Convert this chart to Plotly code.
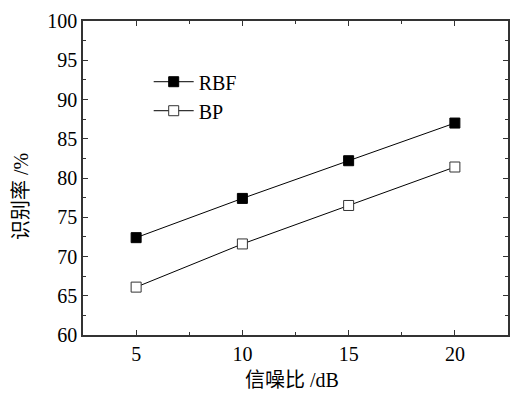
import plotly.graph_objects as go

snr = [5, 10, 15, 20]
rbf = [72.4, 77.4, 82.2, 87.0]
bp = [66.1, 71.6, 76.5, 81.4]
x_ticks = [5, 10, 15, 20]
y_ticks = [60, 65, 70, 75, 80, 85, 90, 95, 100]

FONT = "Liberation Serif, Times New Roman, Noto Sans CJK SC, serif"

fig = go.Figure()
fig.add_trace(go.Scatter(
    x=snr, y=rbf, name="RBF", mode="lines+markers",
    line=dict(color="black", width=1),
    marker=dict(symbol="square", size=10, color="black", line=dict(color="black", width=1)),
))
fig.add_trace(go.Scatter(
    x=snr, y=bp, name="BP", mode="lines+markers",
    line=dict(color="black", width=1),
    marker=dict(symbol="square", size=10, color="white", line=dict(color="#333", width=1)),
))

axis_common = dict(
    showline=True, linecolor="#333", linewidth=1.5, mirror="allticks",
    ticks="inside", ticklen=5, tickwidth=1, tickcolor="#333",
    showgrid=False, zeroline=False, ticklabeloverflow="allow",
    tickfont=dict(family=FONT, size=20, color="black"),
)
fig.update_xaxes(range=[2.5, 22.5], tickvals=x_ticks,
                 minor=dict(ticks="inside", ticklen=3, dtick=2.5, tick0=2.5, tickcolor="#333"),
                 **axis_common)
fig.update_yaxes(range=[60, 100], tickvals=y_ticks,
                 minor=dict(ticks="inside", ticklen=3, dtick=2.5, tick0=60, tickcolor="#333"),
                 **axis_common)

# plot area target (page px): x 83..510, y 15..335
PL, PR, PT, PB = 83, 510, 15, 335
PW, PH = PR - PL, PB - PT
W, H = 520, 397

fig.add_annotation(text="信噪比 /dB", xref="paper", yref="paper",
                   x=(293 - PL) / PW, y=-(381 - PB) / PH, showarrow=False,
                   xanchor="center", yanchor="middle",
                   font=dict(family=FONT, size=20, color="black"))
fig.add_annotation(text="识别率 /%", xref="paper", yref="paper",
                   x=-(PL - 20) / PW, y=(PB - 194) / PH, showarrow=False,
                   textangle=-90, xanchor="center", yanchor="middle",
                   font=dict(family=FONT, size=20, color="black"))

fig.update_layout(
    width=W, height=H,
    margin=dict(l=PL, r=W - PR, t=PT, b=H - PB),
    paper_bgcolor="white", plot_bgcolor="white",
    showlegend=True,
    legend=dict(x=(149 - PL) / PW, y=(PB - 57) / PH, xanchor="left", yanchor="top",
                bgcolor="rgba(0,0,0,0)", font=dict(family=FONT, size=20, color="black"),
                itemwidth=40, tracegroupgap=0),
)

fig.write_html("out.html", config={"displayModeBar": False},
               post_script="document.body.style.margin='0';")
